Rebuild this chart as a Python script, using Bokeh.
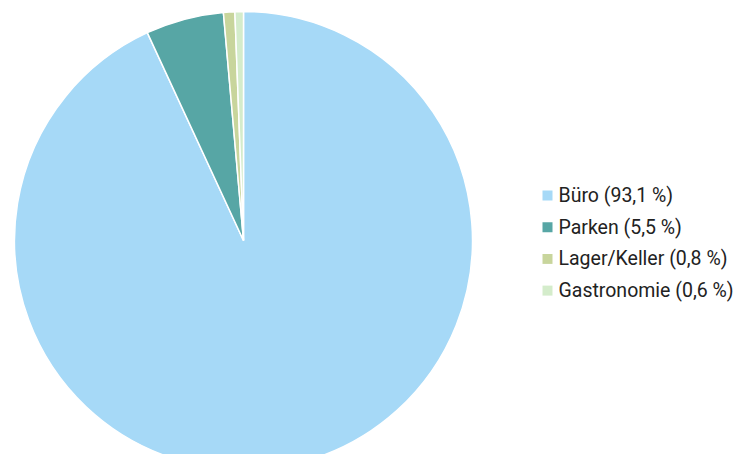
import math
from bokeh.plotting import figure
from bokeh.models import Range1d, ColumnDataSource
from bokeh.core.properties import value
from bokeh.embed import file_html
from bokeh.resources import INLINE

categories = ["Büro", "Parken", "Lager/Keller", "Gastronomie"]
shares = [93.1, 5.5, 0.8, 0.6]
colors = ["#a6d9f7", "#57a6a5", "#c8d59c", "#d4eccb"]
labels = [f"{c} ({str(s).replace('.', ',')} %)" for c, s in zip(categories, shares)]

W, H = 736, 454
p = figure(width=W, height=H, output_backend="svg", toolbar_location=None,
           x_range=Range1d(0, W), y_range=Range1d(0, H), min_border=0)
p.axis.visible = False
p.grid.visible = False
p.outline_line_color = None

total = sum(shares)
starts, ends = [], []
acc = 0.0
for s in shares:
    a0 = math.pi / 2 - 2 * math.pi * acc / total
    acc += s
    a1 = math.pi / 2 - 2 * math.pi * acc / total
    starts.append(a0)
    ends.append(a1)

src = ColumnDataSource(dict(start=starts, end=ends, color=colors))
p.wedge(x=243, y=H - 240, radius=229, start_angle="start", end_angle="end",
        direction="clock", fill_color="color", line_color="white", line_width=1.5,
        source=src)

ly = [H - (195 + 31.7 * i) for i in range(len(categories))]
leg = ColumnDataSource(dict(x=[547] * 4, tx=[558] * 4, y=ly, color=colors, label=labels))
p.scatter(x="x", y="y", size=10, marker="square", fill_color="color", line_color=None, source=leg)
p.text(x="tx", y="y", text="label", text_font=value("Roboto"), text_font_size="19.5px",
       text_baseline="middle", text_color="#222222", source=leg)

open("out.html", "w").write(file_html(p, INLINE))
